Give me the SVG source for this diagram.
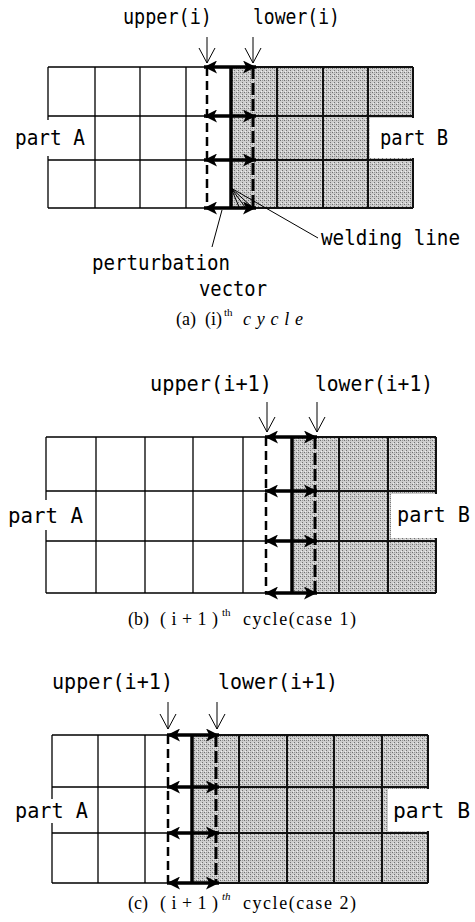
<svg xmlns="http://www.w3.org/2000/svg" width="475" height="922" viewBox="0 0 475 922">
<defs>
<pattern id="dith" width="4" height="4" patternUnits="userSpaceOnUse">
<rect width="4" height="4" fill="#cdcdcd"/>
<rect x="0" y="0" width="1" height="1" fill="#707070"/>
<rect x="2" y="2" width="1" height="1" fill="#707070"/>
<rect x="2" y="0" width="1" height="1" fill="#989898"/>
<rect x="1" y="3" width="1" height="1" fill="#eeeeee"/>
</pattern>
<marker id="ah" viewBox="0 0 10 10" refX="10" refY="5" markerWidth="13" markerHeight="13" markerUnits="userSpaceOnUse" orient="auto-start-reverse">
<path d="M0,0 L10,5 L0,10 L2.5,5 z" fill="#000"/>
</marker>
</defs>
<style>
.thin{stroke:#000;stroke-width:1.3;fill:none}
.thick{stroke:#111;stroke-width:2;fill:none}
.weld{stroke:#000;stroke-width:3.5;fill:none}
.dashU{stroke:#000;stroke-width:2.5;stroke-dasharray:9 5;fill:none}
.dashL{stroke:#000;stroke-width:3;stroke-dasharray:12 4;fill:none}
.pv{stroke:#000;stroke-width:3.5;fill:none;marker-start:url(#ah);marker-end:url(#ah)}
.ptr{stroke:#000;stroke-width:1;fill:none}
.lbl{font-family:"DejaVu Sans Mono","Liberation Mono",monospace;font-size:21px;fill:#000}
.cap{font-family:"Liberation Serif","Times New Roman",serif;font-size:18px;fill:#000}
.sup{font-family:"Liberation Serif","Times New Roman",serif;font-size:11px;fill:#000}
.gray{fill:url(#dith)}
.box{fill:#fff}
</style>

<!-- Panel (a) -->
<g id="panel-a">
<rect class="gray" x="231" y="67" width="182" height="141"/>
<path class="thin" d="M48,67V208M95,67V208M140,67V208M186,67V208M48,67H231M48,116H231M48,160H231M48,208H231"/>
<path class="thick" d="M277,67V208M323,67V208M368,67V208M413,67V208M231,67H413M231,116H413M231,160H413M231,208H413"/>
<rect class="box" x="10" y="120" width="80" height="36"/>
<rect class="box" x="370" y="118" width="44" height="40"/>
<line class="weld" x1="231" y1="67" x2="231" y2="208"/>
<line class="dashU" x1="207" y1="67" x2="207" y2="208"/>
<line class="dashL" x1="253" y1="67" x2="253" y2="208"/>
</g>
<g id="labels-a">
<text class="lbl" x="123" y="24" textLength="89" lengthAdjust="spacingAndGlyphs">upper(i)</text>
<text class="lbl" x="253" y="24" textLength="87" lengthAdjust="spacingAndGlyphs">lower(i)</text>
<text class="lbl" x="15" y="145" textLength="70" lengthAdjust="spacingAndGlyphs">part A</text>
<text class="lbl" x="380" y="145" textLength="68" lengthAdjust="spacingAndGlyphs">part B</text>
<text class="lbl" x="321" y="245" textLength="139" lengthAdjust="spacingAndGlyphs">welding line</text>
<text class="lbl" x="92" y="270" textLength="138" lengthAdjust="spacingAndGlyphs">perturbation</text>
<text class="lbl" x="199" y="296" textLength="68" lengthAdjust="spacingAndGlyphs">vector</text>
<text class="cap" x="176" y="325">(a)</text>
<text class="cap" x="205" y="325">(i)</text>
<text class="sup" x="224" y="316">th</text>
<text class="cap" x="243" y="325" font-style="italic" textLength="60">cycle</text>
</g>

<!-- Panel (b) -->
<g id="panel-b">
<rect class="gray" x="292" y="437" width="144" height="156"/>
<path class="thin" d="M46,437V593M96,437V593M145,437V593M193,437V593M243,437V593M46,437H292M46,491H292M46,541H292M46,593H292"/>
<path class="thick" d="M339,437V593M388,437V593M436,437V593M292,437H436M292,491H436M292,541H436M292,593H436"/>
<rect class="box" x="6" y="500" width="80" height="30"/>
<rect class="box" x="391" y="494" width="46" height="44"/>
<line class="weld" x1="292" y1="437" x2="292" y2="593"/>
<line class="dashU" x1="266" y1="437" x2="266" y2="593"/>
<line class="dashL" x1="315" y1="437" x2="315" y2="593"/>
</g>
<g id="labels-b">
<text class="lbl" x="150" y="391" font-size="22" textLength="122" lengthAdjust="spacingAndGlyphs">upper(i+1)</text>
<text class="lbl" x="315" y="391" font-size="22" textLength="118" lengthAdjust="spacingAndGlyphs">lower(i+1)</text>
<text class="lbl" x="8" y="523" textLength="75" lengthAdjust="spacingAndGlyphs">part A</text>
<text class="lbl" x="397" y="522" textLength="73" lengthAdjust="spacingAndGlyphs">part B</text>
<text class="cap" x="128" y="625">(b)</text>
<text class="cap" x="160" y="625" textLength="58">(i+1)</text>
<text class="sup" x="222" y="616">th</text>
<text class="cap" x="243" y="625" textLength="113">cycle(case 1)</text>
</g>

<!-- Panel (c) -->
<g id="panel-c">
<rect class="gray" x="192" y="735" width="236" height="148"/>
<path class="thin" d="M52,735V883M98,735V883M145,735V883M52,735H192M52,787H192M52,833H192M52,883H192"/>
<path class="thick" d="M239,735V883M287,735V883M334,735V883M382,735V883M428,735V883M192,735H428M192,787H428M192,833H428M192,883H428"/>
<rect class="box" x="12" y="799" width="80" height="24"/>
<rect class="box" x="388" y="789" width="41" height="42"/>
<line class="weld" x1="192" y1="735" x2="192" y2="883"/>
<line class="dashU" x1="168" y1="735" x2="168" y2="883"/>
<line class="dashL" x1="216" y1="735" x2="216" y2="883"/>
</g>
<g id="labels-c">
<text class="lbl" x="52" y="689" font-size="22" textLength="121" lengthAdjust="spacingAndGlyphs">upper(i+1)</text>
<text class="lbl" x="218" y="689" font-size="22" textLength="120" lengthAdjust="spacingAndGlyphs">lower(i+1)</text>
<text class="lbl" x="15" y="818" textLength="73" lengthAdjust="spacingAndGlyphs">part A</text>
<text class="lbl" x="393" y="818" textLength="77" lengthAdjust="spacingAndGlyphs">part B</text>
<text class="cap" x="128" y="909">(c)</text>
<text class="cap" x="160" y="909" textLength="58">(i+1)</text>
<text class="sup" x="222" y="900" font-style="italic">th</text>
<text class="cap" x="243" y="909" textLength="113">cycle(case 2)</text>
</g>

<g id="connectors">
<line class="pv" x1="204" y1="67" x2="256" y2="67"/>
<line class="pv" x1="204" y1="116" x2="256" y2="116"/>
<line class="pv" x1="204" y1="160" x2="256" y2="160"/>
<line class="pv" x1="204" y1="208" x2="256" y2="208"/>
<line class="pv" x1="265" y1="437" x2="317" y2="437"/>
<line class="pv" x1="265" y1="491" x2="317" y2="491"/>
<line class="pv" x1="265" y1="541" x2="317" y2="541"/>
<line class="pv" x1="265" y1="593" x2="317" y2="593"/>
<line class="pv" x1="167" y1="735" x2="219" y2="735"/>
<line class="pv" x1="167" y1="787" x2="219" y2="787"/>
<line class="pv" x1="167" y1="833" x2="219" y2="833"/>
<line class="pv" x1="167" y1="883" x2="219" y2="883"/>
<path class="ptr" d="M207,37V63M199,48L207,63L215,48"/>
<path class="ptr" d="M253,37V63M245,48L253,63L261,48"/>
<path class="ptr" d="M267,402V432M259,417L267,432L275,417"/>
<path class="ptr" d="M317,402V432M309,417L317,432L325,417"/>
<path class="ptr" d="M168,702V729M160,714L168,729L176,714"/>
<path class="ptr" d="M217,702V729M209,714L217,729L225,714"/>
<path class="ptr" d="M231,188L318,238M231,188L252,207M231,188L245,207M231,188L239,207" stroke-width="1.2"/>
<path class="ptr" d="M222,210L212,247" stroke-width="1.2"/>
</g>
</svg>
